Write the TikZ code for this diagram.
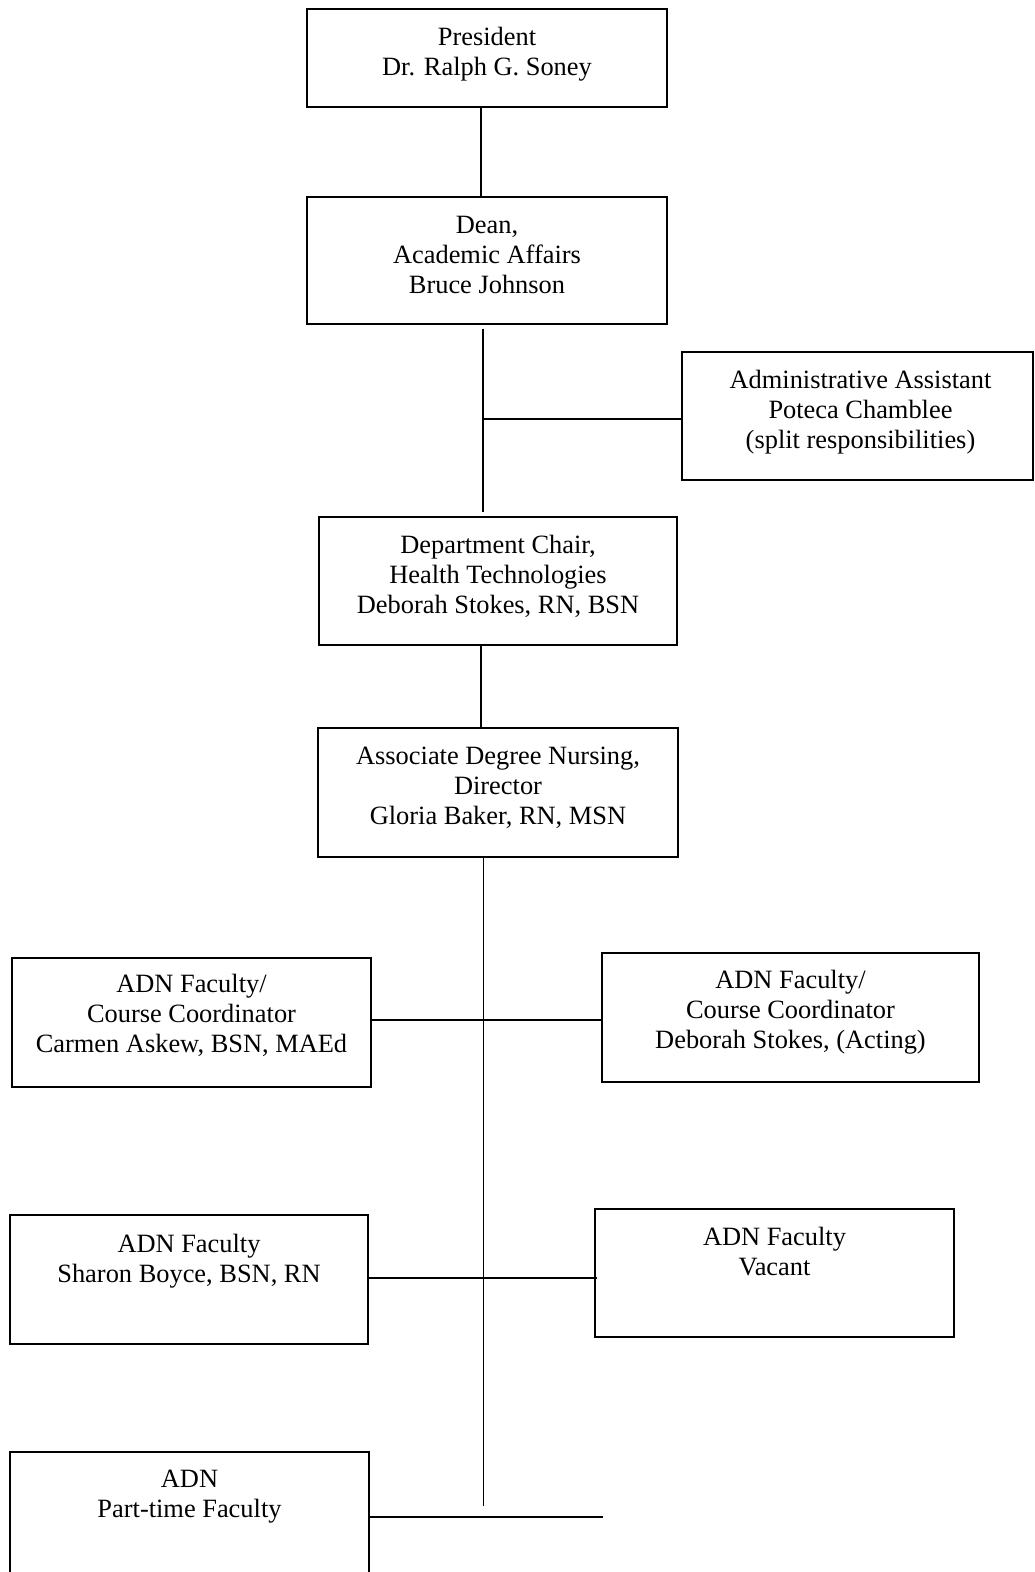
\documentclass[tikz,border=0pt]{standalone}
\usepackage{fontspec}
\setmainfont{Liberation Serif}
\begin{document}
\begin{tikzpicture}[x=1pt,y=-1pt,
  box/.style={draw, line width=1.3pt, inner sep=0pt},
  conn/.style={line width=1.3pt},
  lbl/.style={anchor=base, inner sep=0pt, font=\fontsize{26.4}{30}\selectfont}]
\useasboundingbox (0,0) rectangle (1035,1572);
\begin{scope}
\clip (0,0) rectangle (1035,1572);
% boxes
\node[box, minimum width=360pt, minimum height=98pt]  (pres)  at (487,58) {};
\node[box, minimum width=360pt, minimum height=127pt] (dean)  at (487,260.5) {};
\node[box, minimum width=351pt, minimum height=128pt] (admin) at (857.5,416) {};
\node[box, minimum width=358pt, minimum height=128pt] (dept)  at (498,581) {};
\node[box, minimum width=360pt, minimum height=129pt] (dir)   at (498,792.5) {};
\node[box, minimum width=359pt, minimum height=129pt] (f1)    at (191.5,1022.5) {};
\node[box, minimum width=377pt, minimum height=129pt] (f2)    at (790.5,1017.5) {};
\node[box, minimum width=358pt, minimum height=129pt] (f3)    at (189,1279.5) {};
\node[box, minimum width=359pt, minimum height=128pt] (f4)    at (774.5,1273) {};
\node[box, minimum width=359pt, minimum height=148pt] (pt)    at (189.5,1526) {};
\end{scope}
% texts
\node[lbl] (tpres) at ([yshift=-37pt]pres.north) {\begin{tabular}[t]{@{}c@{}}President\\Dr. Ralph G. Soney\end{tabular}};
\node[lbl] (tdean) at ([yshift=-37pt]dean.north) {\begin{tabular}[t]{@{}c@{}}Dean,\\Academic Affairs\\Bruce Johnson\end{tabular}};
\node[lbl] (tadmin) at ([xshift=3pt,yshift=-37pt]admin.north) {\begin{tabular}[t]{@{}c@{}}Administrative Assistant\\Poteca Chamblee\\(split responsibilities)\end{tabular}};
\node[lbl] (tdept) at ([yshift=-37pt]dept.north) {\begin{tabular}[t]{@{}c@{}}Department Chair,\\Health Technologies\\Deborah Stokes, RN, BSN\end{tabular}};
\node[lbl] (tdir) at ([yshift=-37pt]dir.north) {\begin{tabular}[t]{@{}c@{}}Associate Degree Nursing,\\Director\\Gloria Baker, RN, MSN\end{tabular}};
\node[lbl] (tf1) at ([yshift=-35pt]f1.north) {\begin{tabular}[t]{@{}c@{}}ADN Faculty/\\Course Coordinator\\Carmen Askew, BSN, MAEd\end{tabular}};
\node[lbl] (tf2) at ([yshift=-36pt]f2.north) {\begin{tabular}[t]{@{}c@{}}ADN Faculty/\\Course Coordinator\\Deborah Stokes, (Acting)\end{tabular}};
\node[lbl] (tf3) at ([yshift=-38pt]f3.north) {\begin{tabular}[t]{@{}c@{}}ADN Faculty\\Sharon Boyce, BSN, RN\end{tabular}};
\node[lbl] (tf4) at ([yshift=-37pt]f4.north) {\begin{tabular}[t]{@{}c@{}}ADN Faculty\\Vacant\end{tabular}};
\node[lbl] (tpt) at ([yshift=-36pt]pt.north) {\begin{tabular}[t]{@{}c@{}}ADN\\Part-time Faculty\end{tabular}};
% connectors
\coordinate (s1) at (481,0);
\coordinate (s2) at (483,0);
\coordinate (j1) at (483,419);
\coordinate (r1) at (0,1020);
\coordinate (r2) at (0,1278);
\coordinate (bot) at (483,1506);
\coordinate (r3end) at (603,1517);
\draw[conn] (pres.south -| s1) -- (dean.north -| s1);
\draw[conn, shorten <=4pt, shorten >=4pt] (dean.south -| s2) -- (dept.north -| s2);
\draw[conn] (j1) -- (admin.west |- j1);
\draw[conn] (dept.south -| s1) -- (dir.north -| s1);
\draw[line width=1pt] (dir.south -| s2) -- (bot);
\draw[conn] (f1.east |- r1) -- (f2.west |- r1);
\draw[conn, shorten >=-3pt] (f3.east |- r2) -- (f4.west |- r2);
\draw[conn] (pt.east |- r3end) -- (r3end);
\end{tikzpicture}
\end{document}
